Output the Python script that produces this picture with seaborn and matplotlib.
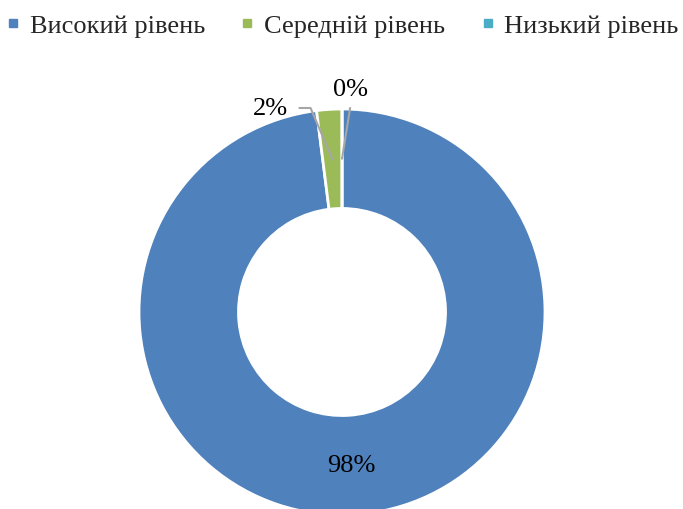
import numpy as np
import matplotlib
matplotlib.use("Agg")
import matplotlib.pyplot as plt
import seaborn as sns
from matplotlib.lines import Line2D

sns.set_theme(style="white")
plt.rcParams['font.family'] = ['Liberation Serif', 'DejaVu Serif']

categories = ["Високий рівень", "Середній рівень", "Низький рівень"]
values = [98, 2, 0]
labels = ["98%", "2%", "0%"]
colors = ["#4F81BD", "#9BBB59", "#4BACC6"]

fig = plt.figure(figsize=(6.83, 5.10), dpi=100)
W, H = 683, 510
cx, cy, R = 342, 313, 203
ax = fig.add_axes([(cx - R) / W, (H - cy - R) / H, 2 * R / W, 2 * R / H])

wedges, _ = ax.pie(values, colors=colors, startangle=90, counterclock=False,
                   radius=1.0, wedgeprops=dict(width=0.49, edgecolor="white", linewidth=2),
                   normalize=True)
ax.set_xlim(-1, 1)
ax.set_ylim(-1, 1)
ax.set_aspect("equal")
ax.axis("off")
for w in wedges:
    w.set_clip_on(False)

rmid = 1.0 - 0.49 / 2
fs = 19
# 98% inside
t1, t2 = wedges[0].theta1, wedges[0].theta2
a = np.deg2rad((t1 + t2) / 2)
ax.text(rmid * np.cos(a), rmid * np.sin(a), labels[0], ha="center", va="center",
        fontsize=fs, color="black")

# 2% with leader
t1, t2 = wedges[1].theta1, wedges[1].theta2
a = np.deg2rad((t1 + t2) / 2)
px, py = rmid * np.cos(a), rmid * np.sin(a)
ax.plot([px, -0.155, -0.21], [py, 1.005, 1.005], color="#A6A6A6", lw=1.5, clip_on=False)
ax.text(-0.265, 1.005, labels[1], ha="right", va="center", fontsize=fs, color="black")

# 0% with leader
t1, t2 = wedges[2].theta1, wedges[2].theta2
a = np.deg2rad((t1 + t2) / 2)
px, py = rmid * np.cos(a), rmid * np.sin(a)
ax.plot([px, 0.04], [py, 1.005], color="#A6A6A6", lw=1.5, clip_on=False)
ax.text(0.04, 1.10, labels[2], ha="center", va="center", fontsize=fs, color="black")

handles = [Line2D([0], [0], marker="s", color="w", markerfacecolor=c, markeredgecolor=c,
                  markersize=5.5, linestyle="None") for c in colors]
fig.legend(handles, categories, loc="upper left", bbox_to_anchor=(-0.006, 0.99), ncol=3,
           frameon=False, fontsize=fs, handlelength=0.6, handletextpad=0.34,
           columnspacing=1.3, borderaxespad=0.0, borderpad=0.35)

fig.savefig("out.png", dpi=100, facecolor="white")
